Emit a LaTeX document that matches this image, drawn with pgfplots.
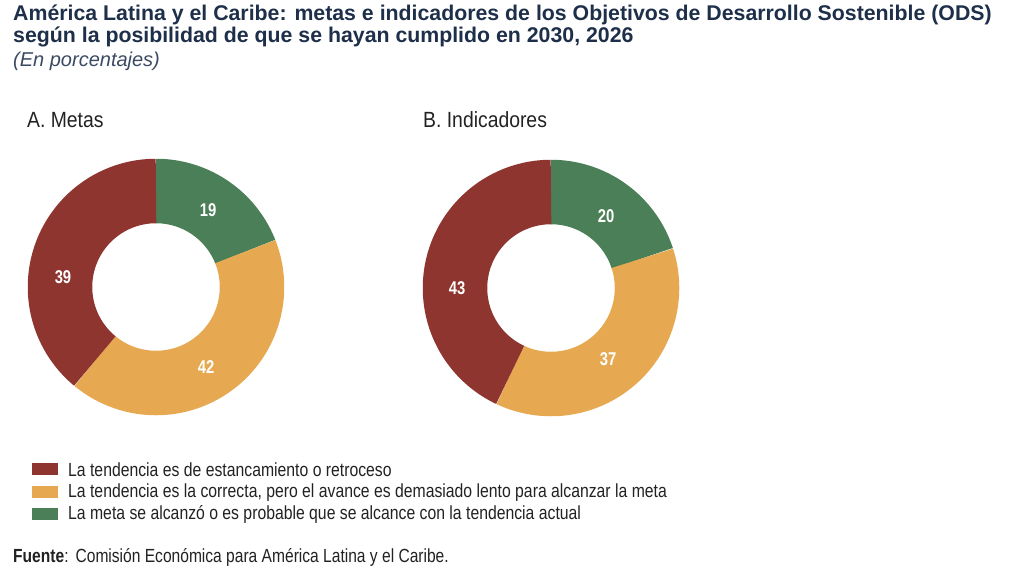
\documentclass[border=0pt]{standalone}
\usepackage{fontspec}
\setmainfont{Liberation Sans}
\newfontfamily\cond[FakeStretch=0.8]{Liberation Sans}
\newfontfamily\condh[FakeStretch=0.88]{Liberation Sans}
\newfontfamily\condl[FakeStretch=0.83]{Liberation Sans}
\newfontfamily\condf[FakeStretch=0.82]{Liberation Sans}
\usepackage{pgfplots}
\pgfplotsset{compat=1.18}

\definecolor{cRed}{HTML}{8E3530}
\definecolor{cOra}{HTML}{E6A952}
\definecolor{cGrn}{HTML}{4A7F57}
\definecolor{cTit}{HTML}{1E2F4A}
\definecolor{cSub}{HTML}{3B4A62}
\definecolor{cTxt}{HTML}{222222}

% one ring slice: centre x, centre y, from (%), to (%), colour
% drawn as a thick arc at mid radius (outer 128, inner 64)
\newcommand{\ringslice}[5]{%
  \addplot[draw=#5, line width=64.5pt, line cap=butt, line join=round,
    domain={90-3.6*(#4)}:{90-3.6*(#3)}, samples=150]
    ({#1+96*cos(x)},{#2-96*sin(x)});
}

\begin{document}
\begin{tikzpicture}
\begin{axis}[
    scale only axis,
    width=1024pt, height=583pt,
    xmin=0, xmax=1024, ymin=0, ymax=583,
    y dir=reverse,
    hide axis,
    clip=false
]
\path (axis cs:0,0) rectangle (axis cs:1024,583);

% A. Metas: 19 / 42 / 39
\ringslice{156}{287}{0}{19}{cGrn}
\ringslice{156}{287}{19}{61}{cOra}
\ringslice{156}{287}{61}{100}{cRed}

% B. Indicadores: 20 / 37 / 43
\ringslice{551}{288}{0}{20}{cGrn}
\ringslice{551}{288}{20}{57}{cOra}
\ringslice{551}{288}{57}{100}{cRed}

% slice labels
\tikzset{lab/.style={text=white, font=\cond\bfseries\fontsize{18.5}{18.5}\selectfont}}
\node[lab] at (axis cs:208,210) {19};
\node[lab] at (axis cs:206,367) {42};
\node[lab] at (axis cs:63,277) {39};
\node[lab] at (axis cs:606,216) {20};
\node[lab] at (axis cs:608,359) {37};
\node[lab] at (axis cs:457,288) {43};

% titles
\tikzset{tl/.style={anchor=base west, inner sep=0pt}}
\node[tl, text=cTit, font=\bfseries\fontsize{21.3}{21.3}\selectfont] at (axis cs:13,21)
  {América Latina y el Caribe: metas e indicadores de los Objetivos de Desarrollo Sostenible (ODS)};
\node[tl, text=cTit, font=\bfseries\fontsize{21.3}{21.3}\selectfont] at (axis cs:13,43)
  {según la posibilidad de que se hayan cumplido en 2030, 2026};
\node[tl, text=cSub, font=\itshape\fontsize{20}{20}\selectfont] at (axis cs:13,67)
  {(En porcentajes)};

\node[tl, text=cTxt, font=\condh\fontsize{22}{22}\selectfont] at (axis cs:27,127) {A. Metas};
\node[tl, text=cTxt, font=\condh\fontsize{22}{22}\selectfont] at (axis cs:423,127) {B. Indicadores};

% legend
\fill[cRed] (axis cs:32,463) rectangle (axis cs:58,475);
\fill[cOra] (axis cs:32,486) rectangle (axis cs:58,498);
\fill[cGrn] (axis cs:32,508) rectangle (axis cs:58,520);
\tikzset{lg/.style={tl, text=cTxt, font=\condl\fontsize{19}{19}\selectfont}}
\node[lg] at (axis cs:68,476) {La tendencia es de estancamiento o retroceso};
\node[lg] at (axis cs:68,497) {La tendencia es la correcta, pero el avance es demasiado lento para alcanzar la meta};
\node[lg] at (axis cs:68,519) {La meta se alcanzó o es probable que se alcance con la tendencia actual};

\node[tl, text=cTxt, font=\condf\fontsize{19}{19}\selectfont] at (axis cs:13,562)
  {\textbf{Fuente}:\hspace{7pt}Comisión Económica para América Latina y el Caribe.};

\end{axis}
\end{tikzpicture}
\end{document}
